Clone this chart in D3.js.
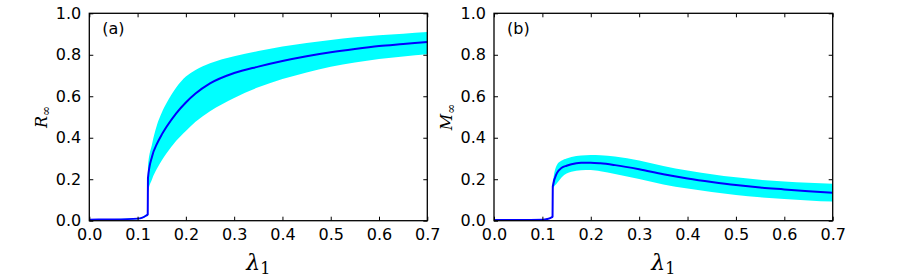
<!DOCTYPE html>
<html>
<head>
<meta charset="utf-8">
<script src="https://cdn.jsdelivr.net/npm/d3@7"></script>
<style>
  body { margin: 0; background: #fff; }
  svg { display: block; }
</style>
</head>
<body>
<div class="graph-container"></div>
<script>
// lambda_1 sample points
const lambdas = [0, 0.05, 0.1, 0.11, 0.118, 0.121, 0.1215, 0.13, 0.14, 0.15, 0.16, 0.18, 0.2, 0.22, 0.25, 0.3, 0.35, 0.4, 0.45, 0.5, 0.55, 0.6, 0.65, 0.7];
// panel (a): R_inf
const rMean  = [0.005, 0.006, 0.01, 0.015, 0.025, 0.03, 0.205, 0.31, 0.37, 0.415, 0.453, 0.518, 0.57, 0.613, 0.662, 0.712, 0.743, 0.77, 0.793, 0.812, 0.828, 0.842, 0.852, 0.862];
const rUpper = [0.007, 0.008, 0.013, 0.018, 0.03, 0.035, 0.26, 0.37, 0.46, 0.52, 0.567, 0.642, 0.695, 0.727, 0.759, 0.793, 0.818, 0.84, 0.857, 0.871, 0.884, 0.894, 0.902, 0.91];
const rLower = [0.003, 0.004, 0.007, 0.012, 0.02, 0.025, 0.135, 0.2, 0.25, 0.29, 0.325, 0.385, 0.433, 0.477, 0.528, 0.592, 0.643, 0.683, 0.715, 0.742, 0.763, 0.78, 0.792, 0.802];
// panel (b): M_inf
const mMean  = [0.003, 0.003, 0.005, 0.008, 0.015, 0.02, 0.165, 0.229, 0.255, 0.265, 0.272, 0.279, 0.28, 0.277, 0.268, 0.248, 0.224, 0.204, 0.187, 0.172, 0.16, 0.151, 0.142, 0.135];
const mUpper = [0.004, 0.004, 0.006, 0.009, 0.017, 0.022, 0.18, 0.269, 0.29, 0.30, 0.307, 0.314, 0.317, 0.316, 0.309, 0.29, 0.264, 0.242, 0.224, 0.209, 0.197, 0.189, 0.183, 0.178];
const mLower = [0.002, 0.002, 0.004, 0.007, 0.013, 0.018, 0.15, 0.18, 0.21, 0.228, 0.236, 0.243, 0.244, 0.238, 0.225, 0.201, 0.175, 0.155, 0.138, 0.124, 0.113, 0.105, 0.098, 0.092];
// ticks
const xTicks = [0, 0.1, 0.2, 0.3, 0.4, 0.5, 0.6, 0.7];
const yTicks = [0, 0.2, 0.4, 0.6, 0.8, 1.0];

const w = 900;
const h = 277;
const plotTop = 13.3;
const plotBottom = 220.7;

const svg = d3.select('.graph-container')
    .append('svg')
    .attr('width', w)
    .attr('height', h);

const panels = [
    { left: 89.3, right: 427.3, mean: rMean, upper: rUpper, lower: rLower, tag: '(a)', sym: 'R', id: 'a' },
    { left: 494, right: 832.7, mean: mMean, upper: mUpper, lower: mLower, tag: '(b)', sym: 'M', id: 'b' }
];

panels.forEach(p => {
    const xScale = d3.scaleLinear().domain([0, 0.7]).range([p.left, p.right]);
    const yScale = d3.scaleLinear().domain([0, 1]).range([plotBottom, plotTop]);
    const g = svg.append('g');

    // clip to plot area
    g.append('clipPath')
        .attr('id', 'clip-' + p.id)
        .append('rect')
        .attr('x', p.left).attr('y', plotTop)
        .attr('width', p.right - p.left).attr('height', plotBottom - plotTop);

    const area = d3.area()
        .x(d => xScale(d))
        .y0((d, i) => yScale(p.lower[i]))
        .y1((d, i) => yScale(p.upper[i]))
        .curve(d3.curveMonotoneX);
    const line = d3.line()
        .x(d => xScale(d))
        .y((d, i) => yScale(p.mean[i]))
        .curve(d3.curveMonotoneX);

    g.append('path')
        .datum(lambdas)
        .attr('clip-path', `url(#clip-${p.id})`)
        .attr('fill', '#00ffff')
        .attr('d', area);
    g.append('path')
        .datum(lambdas)
        .attr('clip-path', `url(#clip-${p.id})`)
        .attr('fill', 'none')
        .attr('stroke', '#0000ff')
        .attr('stroke-width', 2)
        .attr('d', line);

    // axes, ticks pointing inward on all four sides
    const fmt = d3.format('.1f');
    g.append('g')
        .attr('transform', `translate(0, ${plotBottom})`)
        .call(d3.axisBottom(xScale).tickValues(xTicks).tickFormat(fmt).tickSizeInner(-4).tickSizeOuter(0).tickPadding(8))
        .call(a => a.select('.domain').remove());
    g.append('g')
        .attr('transform', `translate(0, ${plotTop})`)
        .call(d3.axisTop(xScale).tickValues(xTicks).tickFormat('').tickSizeInner(-4).tickSizeOuter(0))
        .call(a => a.select('.domain').remove());
    g.append('g')
        .attr('transform', `translate(${p.left}, 0)`)
        .call(d3.axisLeft(yScale).tickValues(yTicks).tickFormat(fmt).tickSizeInner(-4).tickSizeOuter(0).tickPadding(8))
        .call(a => a.select('.domain').remove());
    g.append('g')
        .attr('transform', `translate(${p.right}, 0)`)
        .call(d3.axisRight(yScale).tickValues(yTicks).tickFormat('').tickSizeInner(-4).tickSizeOuter(0))
        .call(a => a.select('.domain').remove());
    g.selectAll('.tick line').attr('stroke', '#000');
    g.selectAll('.tick text')
        .attr('font-family', 'DejaVu Sans, sans-serif')
        .attr('font-size', 16)
        .attr('fill', '#000');

    // frame
    g.append('rect')
        .attr('x', p.left).attr('y', plotTop)
        .attr('width', p.right - p.left).attr('height', plotBottom - plotTop)
        .attr('fill', 'none')
        .attr('stroke', '#000')
        .attr('stroke-width', 1.3);

    // panel tag
    g.append('text')
        .attr('x', p.left + 13)
        .attr('y', plotTop + 21)
        .attr('font-family', 'DejaVu Sans, sans-serif')
        .attr('font-size', 16)
        .text(p.tag);

    // x label
    const xl = g.append('text')
        .attr('x', (p.left + p.right) / 2)
        .attr('y', 270)
        .attr('text-anchor', 'middle')
        .attr('font-family', 'DejaVu Serif, serif')
        .attr('font-size', 22);
    xl.append('tspan').attr('font-style', 'italic').text('λ');
    xl.append('tspan').attr('font-size', 16).attr('dy', 4).text('1');

    // y label
    const yl = g.append('text')
        .attr('transform', `translate(${p.left - 42}, ${(plotTop + plotBottom) / 2}) rotate(-90)`)
        .attr('text-anchor', 'middle')
        .attr('font-family', 'DejaVu Serif, serif')
        .attr('font-size', 16);
    yl.append('tspan').attr('font-style', 'italic').text(p.sym);
    yl.append('tspan').attr('font-size', 12).attr('dy', 3).text('∞');
});
</script>
</body>
</html>
